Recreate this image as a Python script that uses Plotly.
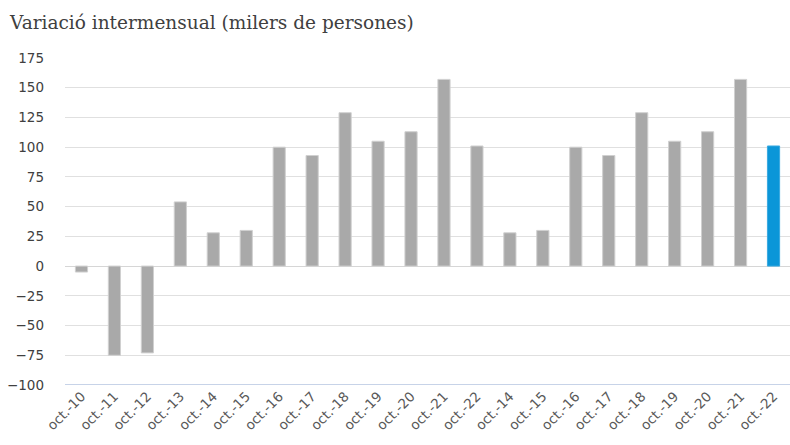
import plotly.graph_objects as go

labels = ["oct.-10", "oct.-11", "oct.-12", "oct.-13", "oct.-14", "oct.-15", "oct.-16",
          "oct.-17", "oct.-18", "oct.-19", "oct.-20", "oct.-21", "oct.-22",
          "oct.-14", "oct.-15", "oct.-16", "oct.-17", "oct.-18", "oct.-19",
          "oct.-20", "oct.-21", "oct.-22"]
values = [-5, -75, -73, 54, 28, 30, 100, 93, 129, 105, 113, 157, 101,
          28, 30, 100, 93, 129, 105, 113, 157, 101]
gray = "#a9a9a9"
blue = "#0b96d8"
colors = [gray] * (len(values) - 1) + [blue]
border = ["#d0d0d0"] * (len(values) - 1) + ["#3aa9e0"]

y_ticks = [-100, -75, -50, -25, 0, 25, 50, 75, 100, 125, 150, 175]
subtitle = "Variació intermensual (milers de persones)"

xpos = list(range(len(values)))

fig = go.Figure(go.Bar(
    x=xpos, y=values, marker=dict(color=colors, line=dict(color=border, width=1)),
    width=0.37, hoverinfo="skip"))

fig.update_layout(
    width=790, height=445,
    margin=dict(l=65, r=0, t=58, b=60),
    paper_bgcolor="white", plot_bgcolor="white",
    showlegend=False,
    font=dict(family="DejaVu Sans, sans-serif", size=13, color="#595959"),
    annotations=[dict(text=subtitle, xref="paper", yref="paper", x=0, y=1,
                      xshift=-58, yshift=23, xanchor="left", yanchor="bottom",
                      showarrow=False,
                      font=dict(family="DejaVu Serif", size=18.5, color="#404040"))],
)
fig.update_xaxes(
    range=[-0.5, len(values) - 0.5], tickmode="array", tickvals=xpos, ticktext=labels,
    tickangle=-45, showgrid=False, zeroline=False, showline=False,
    tickfont=dict(family="DejaVu Sans", size=13.5, color="#595959"))
fig.update_yaxes(
    range=[-100, 175], tickmode="array", tickvals=y_ticks,
    showgrid=True, gridcolor="#e0e0e0", gridwidth=1,
    zeroline=True, zerolinecolor="#d6d6d6", zerolinewidth=1,
    showline=False, ticklabelstandoff=20,
    tickfont=dict(family="DejaVu Sans", size=13.5, color="#404040"))
fig.add_hline(y=-100, line=dict(color="#b4c4e0", width=1.5), layer="above")

fig.write_html("out.html")
